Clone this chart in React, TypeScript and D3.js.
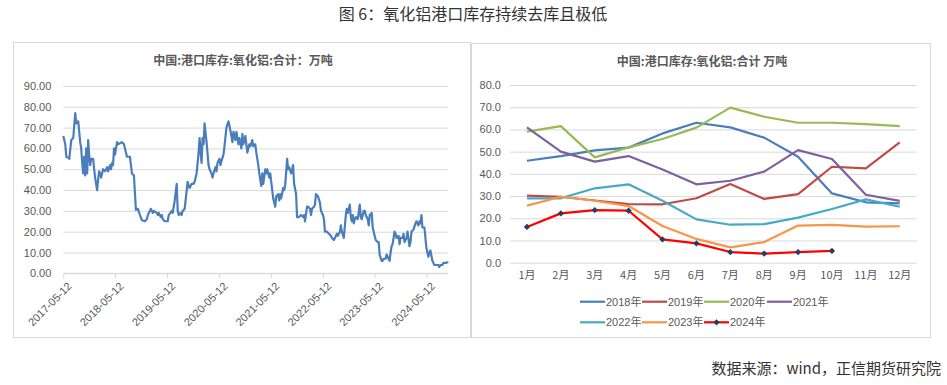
import { useRef, useEffect } from "react";
import * as d3 from "d3";

const width = 947;
const height = 385;

// left chart: weekly port inventory, weeks counted from 2017-05-12
const startDate = "2017-05-12";
const invWeeks = [
  0, 2, 3, 5, 6, 8, 10, 12, 13, 15, 17, 18, 19, 20, 21, 22, 23, 24, 25, 26, 27, 28, 30, 31, 32, 34, 35, 36, 37, 38,
  40, 42, 44, 45, 47, 48, 49, 50, 51, 52, 54, 55, 59, 61, 62, 64, 67, 69, 71, 73, 75, 77, 79, 82, 84, 85, 87, 88, 90,
  91, 94, 95, 96, 98, 99, 100, 102, 105, 106, 109, 110, 112, 114, 115, 116, 118, 119, 120, 122, 125, 126, 127, 129,
  131, 132, 134, 136, 137, 138, 139, 140, 141, 142, 144, 146, 147, 149, 150, 151, 153, 154, 155, 157, 158, 159, 161,
  162, 164, 166, 167, 169, 170, 171, 173, 174, 176, 177, 179, 180, 181, 183, 184, 185, 187, 188, 190, 191, 193, 194,
  196, 197, 199, 200, 201, 203, 204, 205, 207, 208, 210, 211, 213, 214, 216, 217, 218, 219, 221, 222, 223, 225, 226,
  227, 229, 231, 232, 234, 235, 237, 239, 241, 242, 243, 245, 246, 248, 249, 250, 252, 253, 254, 256, 258, 259, 261,
  262, 263, 265, 267, 269, 270, 272, 273, 275, 276, 278, 279, 280, 282, 284, 285, 286, 288, 289, 290, 291, 292, 293,
  294, 296, 298, 299, 300, 302, 303, 304, 306, 307, 308, 310, 311, 312, 314, 316, 317, 318, 320, 321, 322, 324, 325,
  327, 328, 329, 330, 331, 333, 334, 335, 337, 338, 339, 341, 342, 343, 345, 346, 348, 349, 350, 352, 354, 355, 357,
  358, 359, 360, 361, 363, 365, 366, 367, 368, 369, 371, 372, 373, 375, 377, 378, 379, 381, 382, 385, 387,
];
const invValues = [
  66, 62, 56, 55.5, 55, 64, 65, 77, 72, 73, 63, 60, 53, 48, 56, 47, 60, 48, 64, 57, 52, 55, 55, 50, 46, 40, 45, 49,
  48, 46, 50, 49, 51, 49, 52, 50, 53, 52, 60, 57, 63, 62, 63, 62, 60, 56, 56, 48, 47, 30.5, 31, 28, 25.5, 25, 26, 28,
  30, 31, 29, 30, 29, 28, 29, 27, 28, 26, 25, 25, 28, 30, 29, 35, 43, 30, 28, 29, 28, 30, 31, 44, 42, 41, 43, 43, 44,
  48, 58, 65, 58, 53, 65, 62, 72, 63, 52, 50, 48, 46, 48, 51, 49, 53, 55, 52, 54, 57, 61, 70, 73, 71, 66, 63, 68, 64,
  68, 62, 65, 60, 67, 62, 66, 62, 58, 62, 61, 64, 61, 62, 58, 52, 48, 42, 48, 43, 50, 48, 50, 46, 48, 40, 36, 32, 37,
  38, 35, 38, 36, 41, 40, 42, 55, 50, 51, 48, 52, 43, 38, 27, 27, 28, 27, 28, 25, 32, 32, 31, 28, 31, 32, 33, 38, 37,
  34, 30, 28, 26, 20, 20, 19, 18, 17, 16, 17, 19, 18, 20, 23, 20, 17, 28, 31, 29, 33, 27, 25, 28, 24, 26, 27, 26, 33,
  27, 26, 30, 30, 28, 26, 23, 28, 29, 22, 20, 16, 15, 15, 9, 6, 6, 7, 7, 9, 7, 6, 10, 13, 14, 20, 19, 17, 18, 14, 17,
  17, 19, 15, 17, 20, 13, 15, 20, 21, 24, 25, 23, 25, 24, 28, 22, 22, 12, 10, 8, 10, 11, 6, 5, 4, 4, 4, 3, 4, 4, 5,
  5, 5.5,
];
const leftTicks = ["2017-05-12", "2018-05-12", "2019-05-12", "2020-05-12", "2021-05-12", "2022-05-12", "2023-05-12", "2024-05-12"];

// right chart: monthly seasonal comparison
const months = ["1月", "2月", "3月", "4月", "5月", "6月", "7月", "8月", "9月", "10月", "11月", "12月"];
const years = ["2018年", "2019年", "2020年", "2021年", "2022年", "2023年", "2024年"];
const s2018 = [45.9, 48, 50.6, 51.8, 58.2, 63, 60.9, 56.3, 47.7, 31.2, 27.2, 26.7];
const s2019 = [30.2, 29.7, 28, 26.4, 26.3, 29, 35.4, 28.7, 30.9, 43.2, 42.5, 54.2];
const s2020 = [59, 61.5, 47.4, 51.9, 55.7, 60.8, 69.8, 65.7, 63, 63, 62.4, 61.5];
const s2021 = [60.9, 50, 45.5, 48, 42, 35.3, 36.9, 41, 50.7, 46.7, 30.6, 27.8];
const s2022 = [29, 29, 33.5, 35.3, 27.9, 19.5, 17.1, 17.4, 20.3, 24.2, 28.5, 25.2];
const s2023 = [25.7, 29.7, 27.9, 25.5, 16.5, 10.7, 6.9, 9.3, 16.7, 17, 16.2, 16.4];
const s2024 = [16.1, 22.2, 23.7, 23.4, 10.5, 8.7, 4.8, 4.1, 4.8, 5.3];
const colors = ["#4a7ebb", "#be4b48", "#98b954", "#7d60a0", "#46aac5", "#f79646", "#ff0000"];

const font = "'Liberation Sans', 'Noto Sans CJK SC', sans-serif";
const cjk = "'Noto Sans CJK SC', sans-serif";

export default function App() {
  const ref = useRef<SVGSVGElement | null>(null);

  useEffect(() => {
    const svg = d3.select(ref.current).attr("width", width).attr("height", height);
    svg.selectAll("*").remove();
    svg.append("rect").attr("width", width).attr("height", height).attr("fill", "#fff");

    svg
      .append("text")
      .attr("x", 473)
      .attr("y", 20)
      .attr("text-anchor", "middle")
      .attr("font-family", cjk)
      .attr("font-size", 16)
      .attr("fill", "#333")
      .text("图 6：氧化铝港口库存持续去库且极低");

    svg
      .append("text")
      .attr("x", 941)
      .attr("y", 374)
      .attr("text-anchor", "end")
      .attr("font-family", cjk)
      .attr("font-size", 15)
      .attr("fill", "#333")
      .text("数据来源：wind，正信期货研究院");

    // frames
    svg.append("rect").attr("x", 13.5).attr("y", 42.5).attr("width", 457).attr("height", 295)
      .attr("fill", "none").attr("stroke", "#d9d9d9");
    svg.append("rect").attr("x", 471.5).attr("y", 43.5).attr("width", 459).attr("height", 294)
      .attr("fill", "none").attr("stroke", "#d9d9d9");

    // ---- left chart
    const parse = d3.timeParse("%Y-%m-%d");
    const t0 = parse(startDate)!;
    const pts = invWeeks.map((w, i) => ({ date: d3.timeDay.offset(t0, w * 7), v: invValues[i] }));
    const tickDates = leftTicks.map((s) => parse(s)!);

    const xL = d3.scaleTime().domain([tickDates[0], tickDates[tickDates.length - 1]]).range([63.3, 426.7]);
    const yL = d3.scaleLinear().domain([0, 90]).range([273.3, 86]);
    const gL = svg.append("g");

    gL.append("text")
      .attr("x", 243)
      .attr("y", 65)
      .attr("text-anchor", "middle")
      .attr("font-family", cjk)
      .attr("font-size", 12)
      .attr("font-weight", "bold")
      .attr("fill", "#595959")
      .text("中国:港口库存:氧化铝:合计：万吨");

    const yAxL = gL.append("g").attr("transform", "translate(63.3,0)")
      .call(d3.axisLeft(yL).tickValues(d3.range(0, 91, 10)).tickFormat(d3.format(".2f")).tickSize(0).tickPadding(12));
    yAxL.select(".domain").remove();
    yAxL.selectAll(".tick line").clone().attr("x2", 448.3 - 63.3).attr("stroke", "#d9d9d9");
    yAxL.selectAll("text").attr("font-family", font).attr("font-size", 11).attr("fill", "#595959");

    const xAxL = gL.append("g").attr("transform", `translate(0,${yL(0)})`)
      .call(d3.axisBottom(xL).tickValues(tickDates).tickFormat(d3.timeFormat("%Y-%m-%d") as any).tickSize(5).tickSizeOuter(0));
    xAxL.select(".domain").attr("d", `M63.3,0H448.3`).attr("stroke", "#d9d9d9");
    xAxL.selectAll(".tick line").attr("stroke", "#d9d9d9");
    xAxL.selectAll("text")
      .attr("font-family", font)
      .attr("font-size", 11)
      .attr("fill", "#595959")
      .attr("text-anchor", "end")
      .attr("dy", 0)
      .attr("transform", "translate(3,8) rotate(-45)");

    const lineL = d3.line<{ date: Date; v: number }>().x((d) => xL(d.date)).y((d) => yL(d.v));
    gL.append("path").datum(pts).attr("fill", "none").attr("stroke", "#4a7ebb")
      .attr("stroke-width", 2.2).attr("stroke-linejoin", "round").attr("d", lineL);

    // ---- right chart
    const series = [s2018, s2019, s2020, s2021, s2022, s2023, s2024];
    const xR = d3.scaleBand().domain(months).range([510, 916.7]);
    const yR = d3.scaleLinear().domain([0, 80]).range([262.7, 85]);
    const gR = svg.append("g");

    gR.append("text")
      .attr("x", 702)
      .attr("y", 66)
      .attr("text-anchor", "middle")
      .attr("font-family", cjk)
      .attr("font-size", 12)
      .attr("font-weight", "bold")
      .attr("fill", "#595959")
      .text("中国:港口库存:氧化铝:合计 万吨");

    const yAxR = gR.append("g").attr("transform", "translate(510,0)")
      .call(d3.axisLeft(yR).tickValues(d3.range(0, 81, 10)).tickFormat(d3.format(".1f")).tickSize(0).tickPadding(9));
    yAxR.select(".domain").remove();
    yAxR.selectAll(".tick line").clone().attr("x2", 916.7 - 510).attr("stroke", "#d9d9d9");
    yAxR.selectAll("text").attr("font-family", font).attr("font-size", 11).attr("fill", "#595959");

    const xAxR = gR.append("g").attr("transform", `translate(0,${yR(0)})`)
      .call(d3.axisBottom(xR).tickSize(0).tickPadding(9));
    xAxR.select(".domain").remove();
    xAxR.selectAll("text").attr("font-family", cjk).attr("font-size", 11).attr("fill", "#595959");

    const cx = (i: number) => xR(months[i])! + xR.bandwidth() / 2;
    series.forEach((vals, k) => {
      const line = d3.line<number>().x((_, i) => cx(i)).y((d) => yR(d));
      gR.append("path").datum(vals).attr("fill", "none").attr("stroke", colors[k])
        .attr("stroke-width", 2.2).attr("stroke-linejoin", "round").attr("d", line);
    });
    // diamond marker: a square turned 45 degrees
    const diamond = d3.symbol().type(d3.symbolSquare).size(20);
    gR.append("g").selectAll("path").data(s2024).join("path")
      .attr("d", diamond)
      .attr("transform", (d, i) => `translate(${cx(i)},${yR(d)}) rotate(45)`)
      .attr("fill", "#243f60");

    // legend
    const legX = [580, 642, 704, 767];
    const legY = [301.7, 322.3];
    years.forEach((name, k) => {
      const lx = legX[k % 4];
      const ly = legY[Math.floor(k / 4)];
      const g = gR.append("g").attr("transform", `translate(${lx},${ly})`);
      g.append("line").attr("x1", 0).attr("x2", 25).attr("stroke", colors[k]).attr("stroke-width", 2.2);
      if (k === 6) g.append("path").attr("d", diamond).attr("transform", "translate(12.5,0) rotate(45)").attr("fill", "#243f60");
      g.append("text").attr("x", 26).attr("dy", "0.35em").attr("font-family", font).attr("font-size", 11)
        .attr("fill", "#595959").text(name);
    });
  }, []);

  return <svg ref={ref} style={{ position: "absolute", left: 0, top: 0 }} />;
}
